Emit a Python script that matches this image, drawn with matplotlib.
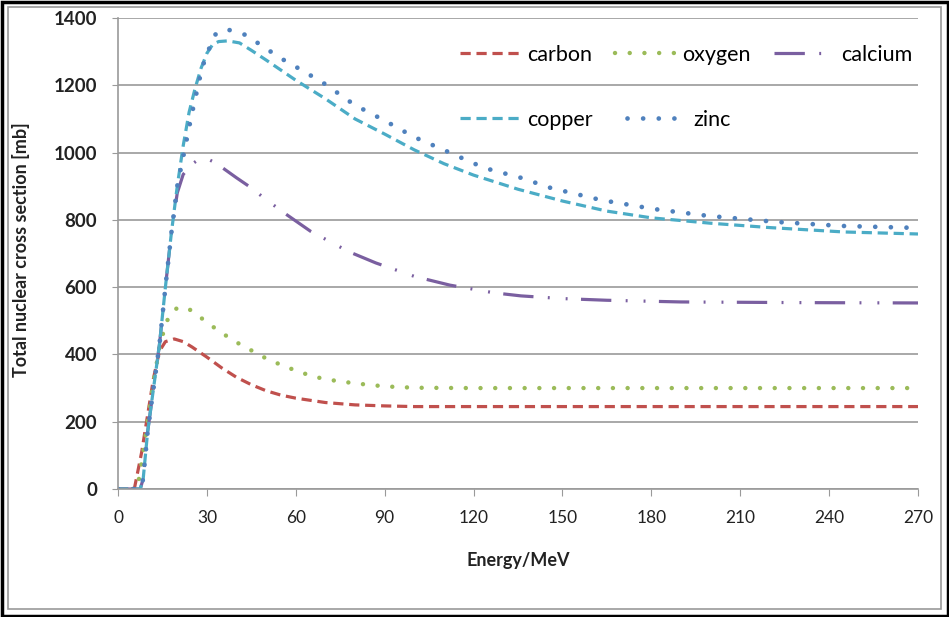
import matplotlib
matplotlib.use("Agg")
import matplotlib.pyplot as plt
from matplotlib.patches import Rectangle

# ---- data ----
energy_carbon = [0, 5.5, 8, 10, 12, 14, 16, 19, 22, 25, 30, 35, 40, 45, 50, 55, 60, 70,
                 80, 90, 100, 120, 150, 180, 210, 240, 270]
carbon = [0, 0, 110, 220, 330, 410, 438, 446, 438, 422, 392, 360, 332, 310, 292, 279, 270, 257,
          250, 247, 245, 245, 245, 245, 245, 245, 245]

energy_oxygen = [0, 6.5, 8, 10, 12, 14, 16, 18, 20, 22, 25, 30, 35, 40, 45, 50, 55, 60, 65,
                 70, 80, 90, 100, 120, 150, 180, 210, 240, 270]
oxygen = [0, 0, 80, 200, 320, 420, 490, 525, 538, 541, 530, 495, 464, 436, 412, 388, 369, 352, 337,
          326, 314, 305, 301, 300, 300, 300, 300, 300, 300]

energy_calcium = [0, 7.5, 8.5, 10, 12, 14, 16, 18, 20, 22, 25, 28, 30, 33, 40, 45, 50, 57, 65,
                  78, 87, 100, 112, 127, 136, 150, 165, 190, 230, 270]
calcium = [0, 0, 30, 170, 300, 430, 600, 760, 880, 935, 966, 984, 982, 969, 925, 895, 860, 815, 766,
           705, 672, 632, 606, 583, 574, 566, 561, 556, 554, 553]

energy_copper = [0, 7.5, 8.5, 10, 12, 14, 16, 18, 20, 22, 24, 26, 28, 30, 32, 34, 37, 41, 45,
                 50, 55, 60, 70, 80, 90, 100, 110, 120, 135, 150, 165, 180, 200, 220, 245, 270]
copper = [0, 0, 30, 170, 300, 430, 600, 760, 900, 1020, 1120, 1190, 1250, 1295, 1322, 1330, 1332,
          1326, 1304, 1275, 1245, 1215, 1160, 1100, 1055, 1008, 967, 933, 891, 856, 826, 806, 790,
          777, 764, 758]

energy_zinc = [0, 7.5, 8.5, 10, 12, 14, 16, 18, 20, 22, 25, 27.7, 29.4, 31, 32.7, 36, 40.5, 44.5,
               48, 56, 60, 67, 70, 78, 80, 90, 100, 113, 120, 125, 136, 146, 163, 181, 199, 222,
               244, 270]
zinc = [0, 0, 30, 170, 300, 430, 600, 760, 900, 987, 1118, 1225, 1281, 1314, 1350, 1367, 1359, 1344,
        1320, 1275, 1255, 1219, 1203, 1153, 1141, 1095, 1046, 996, 968, 951, 925, 895, 859, 832, 812,
        794, 782, 776]

x_ticks = list(range(0, 271, 30))
y_ticks = list(range(0, 1401, 200))

# ---- styles (Excel 2007 palette) ----
col_carbon = "#C0504D"
col_oxygen = "#9BBB59"
col_calcium = "#7A5FA0"
col_copper = "#4BACC6"
col_zinc = "#4F81BD"

W, H = 949, 617
fig = plt.figure(figsize=(W / 100, H / 100), dpi=100)
fig.patch.set_facecolor("white")

# outer frames
fig.patches.append(Rectangle((1.5 / W, 1.5 / H), 1 - 3 / W, 1 - 3 / H, transform=fig.transFigure,
                             fill=False, edgecolor="black", linewidth=2.5))
fig.patches.append(Rectangle((8 / W, 8 / H), 1 - 16 / W, 1 - 15 / H, transform=fig.transFigure,
                             fill=False, edgecolor="#9a9a9a", linewidth=1.2))

ax = fig.add_axes([118 / W, 1 - 489 / H, 800 / W, 471 / H])

lw = 2.3
ax.plot(energy_carbon, carbon, color=col_carbon, lw=lw, linestyle=(0, (3.2, 1.8)), label="carbon")
ax.plot(energy_oxygen, oxygen, color=col_oxygen, lw=3.2, linestyle=(0, (0.01, 3.3)),
        dash_capstyle="round", label="oxygen")
ax.plot(energy_calcium, calcium, color=col_calcium, lw=lw,
        linestyle=(0, (9.5, 4.5, 0.6, 5.0, 0.6, 4.2)), label="calcium")
ax.plot(energy_copper, copper, color=col_copper, lw=lw, linestyle=(0, (3.2, 1.8)), label="copper")
ax.plot(energy_zinc, zinc, color=col_zinc, lw=3.4, linestyle=(0, (0.01, 3.3)),
        dash_capstyle="round", label="zinc")

ax.set_xlim(0, 270)
ax.set_ylim(0, 1400)
ax.set_xticks(x_ticks)
ax.set_yticks(y_ticks)
ax.grid(axis="y", color="#9a9a9a", linewidth=1.2)
ax.set_axisbelow(True)
for side in ("top", "right"):
    ax.spines[side].set_visible(False)
ax.spines["left"].set_color("#9a9a9a")
ax.spines["bottom"].set_color("#9a9a9a")
ax.spines["left"].set_linewidth(1.2)
ax.spines["bottom"].set_linewidth(1.2)

ax.tick_params(axis="x", direction="out", length=5, color="#9a9a9a", pad=10,
               labelsize=12.5, labelcolor="#222222")
ax.tick_params(axis="y", direction="out", length=4, color="#9a9a9a", pad=11,
               labelsize=13.5, labelcolor="#222222")
for lab in ax.get_xticklabels():
    lab.set_fontfamily("Lato")
for lab in ax.get_yticklabels():
    lab.set_fontfamily("Lato")
    lab.set_fontweight("bold")

ax.set_xlabel("Energy/MeV", fontsize=13, fontweight="bold", family="Lato", color="#222222")
ax.set_ylabel("Total nuclear cross section [mb]", fontsize=13, fontweight="bold", family="Lato",
              color="#222222")
ax.xaxis.set_label_coords((518 - 118) / 800, (489 - 552) / 471)
ax.yaxis.set_label_coords((30 - 118) / 800, (489 - 250) / 471)

# legend as two rows, like the Excel layout
lines = ax.get_lines()
leg_kw = dict(loc="center left", frameon=False, borderpad=0, borderaxespad=0, handlelength=2.8,
              handletextpad=0.3, prop={"family": "Lato", "size": 15.5})
leg1 = fig.legend(lines[:3], ["carbon", "oxygen", "calcium"], ncol=3, columnspacing=1.1,
                  bbox_to_anchor=(460 / W, 1 - 55 / H), **leg_kw)
leg2 = fig.legend(lines[3:], ["copper", "zinc"], ncol=2, columnspacing=1.6,
                  bbox_to_anchor=(460 / W, 1 - 120 / H), **leg_kw)

fig.savefig("out.png", dpi=100, facecolor="white")
